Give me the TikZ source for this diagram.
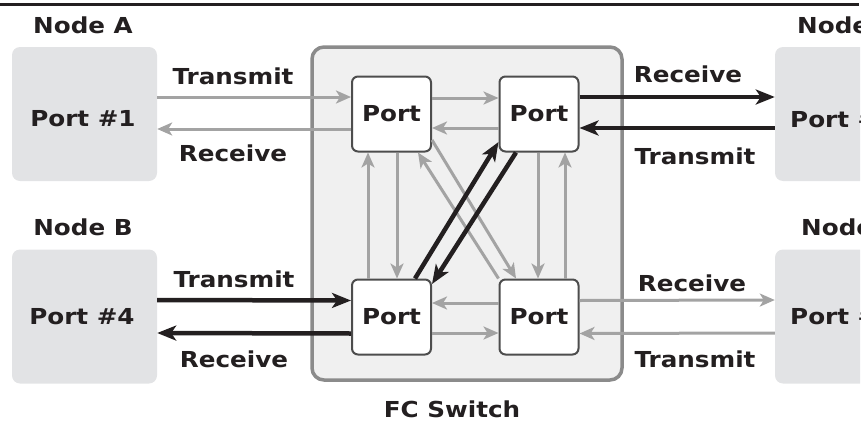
\documentclass[tikz,border=0pt]{standalone}
\usepackage{fontspec}
\setmainfont{DejaVu Sans}[FakeStretch=1.12]
\usetikzlibrary{arrows.meta}

\definecolor{ink}{HTML}{231F20}
\definecolor{nodegrey}{HTML}{E2E3E5}
\definecolor{swfill}{HTML}{F0F0F0}
\definecolor{swline}{HTML}{8B8B8B}
\definecolor{portline}{HTML}{4D4D4D}
\definecolor{linkgrey}{HTML}{A3A3A3}

\tikzset{
  sidebox/.style={fill=nodegrey, rounded corners=8pt, minimum width=145pt,
    minimum height=134pt, inner sep=0pt},
  switchbox/.style={draw=swline, line width=3.5pt, fill=swfill, rounded corners=12pt,
    minimum width=310pt, minimum height=333pt, inner sep=0pt},
  portbox/.style={draw=portline, line width=2pt, fill=white, rounded corners=6pt,
    minimum width=79pt, minimum height=75pt, inner sep=0pt, text=ink},
  lbl/.style={text=ink, inner sep=0pt},
  greylink/.style={draw=linkgrey, line width=3pt,
    -{Stealth[length=15pt,width=13pt,inset=4pt]}},
  darklink/.style={draw=ink, line width=4.5pt,
    -{Stealth[length=19pt,width=15pt,inset=5pt]}},
}

\begin{document}
\begin{tikzpicture}[x=1pt, y=-1pt, font=\bfseries\fontsize{22}{26}\selectfont]
\useasboundingbox (0,0) rectangle (864,423);
\begin{scope}
\clip (0,0) rectangle (860,423);

% rule across the top
\draw[ink, line width=3pt] (0,4.5) -- (859,4.5);

% end nodes
\node[sidebox] (na) at (84.5,114) {};
\node[sidebox] (nb) at (84.5,316.5) {};
\node[sidebox] (nc) at (847.5,114) {};
\node[sidebox] (nd) at (847.5,316.5) {};

\node[lbl] (ta) at (83,25) {Node A};
\node[lbl] (tb) at (83,227) {Node B};
\node[lbl, anchor=west] (tc) at (797,25) {Node C};
\node[lbl, anchor=west] (td) at (801,227) {Node D};

\node[lbl] (pa) at (83,119) {Port \#1};
\node[lbl] (pb) at (82,317) {Port \#4};
\node[lbl, anchor=west] (pc) at (790,119) {Port \#2};
\node[lbl, anchor=west] (pd) at (790,316) {Port \#3};

% the switch and its ports
\node[switchbox] (sw) at (467,213.5) {};
\node[lbl] (swname) at (452,409) {FC Switch};

\node[portbox] (tl) at (391.5,114) {Port};
\node[portbox] (tr) at (539,114) {Port};
\node[portbox] (bl) at (391.5,317) {Port};
\node[portbox] (br) at (539,317) {Port};

% links between the switch ports
\draw[greylink] ([yshift=16pt]tl.east) -- ([yshift=16pt]tr.west);
\draw[greylink] ([yshift=-14pt]tr.west) -- ([yshift=-14pt]tl.east);
\draw[greylink] ([yshift=14pt]br.west) -- ([yshift=14pt]bl.east);
\draw[greylink] ([yshift=-16pt]bl.east) -- ([yshift=-16pt]br.west);

\draw[greylink] ([xshift=-23.5pt]bl.north) -- ([xshift=-23.5pt]tl.south);
\draw[greylink] ([xshift=5.5pt]tl.south) -- ([xshift=5.5pt]bl.north);
\draw[greylink] ([xshift=-1pt]tr.south) -- ([xshift=-1pt]br.north);
\draw[greylink] ([xshift=26pt]br.north) -- ([xshift=26pt]tr.south);

\draw[greylink] ([yshift=-26pt]tl.east) -- ([xshift=-23pt]br.north);
\draw[greylink] (br.north west) -- ([xshift=26.5pt]tl.south);

\draw[darklink] ([xshift=23.5pt]bl.north) -- ([yshift=-28pt]tr.west);
\draw[darklink] ([xshift=-23pt]tr.south) -- ([yshift=33pt]bl.east);

% links to the end nodes
\draw[greylink] ([yshift=17pt]na.east) -- ([yshift=17pt]tl.west);
\draw[greylink] ([yshift=-15pt]tl.west) -- ([yshift=-15pt]na.east);
\draw[darklink] ([yshift=16.5pt]nb.east) -- ([yshift=16.5pt]bl.west);
\draw[darklink] ([yshift=-16.5pt]bl.west) -- ([yshift=-16.5pt]nb.east);
\draw[darklink] ([yshift=17pt]tr.east) -- ([yshift=17pt]nc.west);
\draw[darklink] ([yshift=-14pt]nc.west) -- ([yshift=-14pt]tr.east);
\draw[greylink] ([yshift=16.5pt]br.east) -- ([yshift=16.5pt]nd.west);
\draw[greylink] ([yshift=-16.5pt]nd.west) -- ([yshift=-16.5pt]br.east);

% link captions
\node[lbl] (l1) at (233,76) {Transmit};
\node[lbl] (l2) at (233,153) {Receive};
\node[lbl] (l3) at (234,279) {Transmit};
\node[lbl] (l4) at (234,359) {Receive};
\node[lbl] (l5) at (688,74) {Receive};
\node[lbl] (l6) at (695,156) {Transmit};
\node[lbl] (l7) at (692,283) {Receive};
\node[lbl] (l8) at (695,359) {Transmit};
\end{scope}
\end{tikzpicture}
\end{document}
